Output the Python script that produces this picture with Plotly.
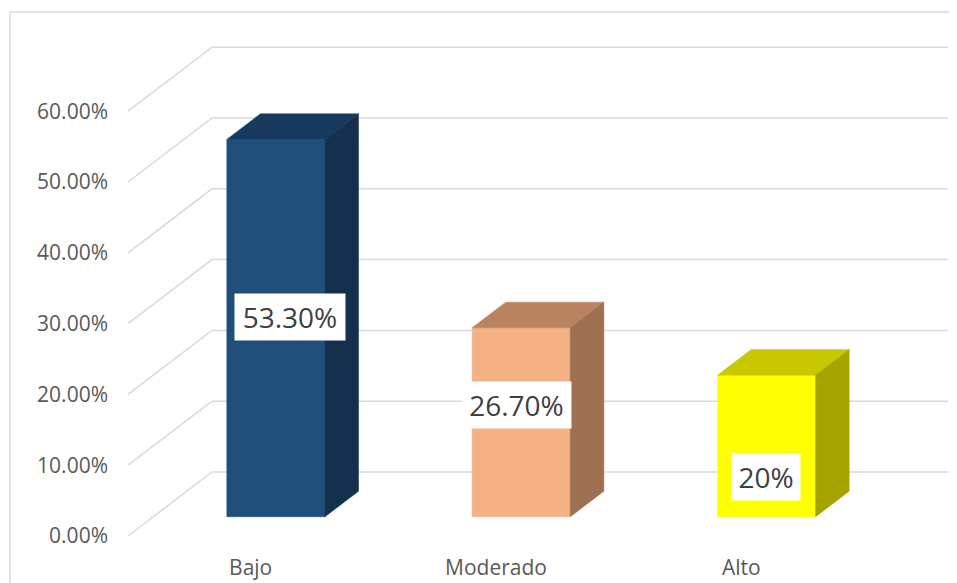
import plotly.graph_objects as go

# ---- data ----
categories = ["Bajo", "Moderado", "Alto"]
values = [53.3, 26.7, 20.0]
value_labels = ["53.30%", "26.70%", "20%"]
ytick_vals = [0, 10, 20, 30, 40, 50, 60]
ytick_text = ["0.00%", "10.00%", "20.00%", "30.00%", "40.00%", "50.00%", "60.00%"]

front_colors = ["#1F4E79", "#F4B183", "#FFFF00"]
top_colors = ["#173A5E", "#B9835F", "#C9C700"]
side_colors = ["#15304C", "#9C7050", "#A5A300"]

# label anchor (category x offset, fraction of value) and box widths
label_dx = [0.160, 0.083, 0.099]
label_fy = [0.580, 0.691, 0.414]
label_w = [102, 101, 60]

# ---- pseudo-3D projection (in axis units) ----
DX = 0.3424   # x shift for full depth
DY = 9.04     # y shift for full depth
Z0, Z1 = 0.3, 0.7   # bar depth extent
W0, W1 = 0.3, 0.7   # bar width extent within category

fig = go.Figure()

# gridlines: diagonal on the side wall + horizontal on the back wall
gx, gy = [], []
n = len(categories)
for t in ytick_vals:
    gx += [0, DX, n + DX, None]
    gy += [t, t + DY, t + DY, None]
fig.add_trace(go.Scatter(x=gx, y=gy, mode="lines",
                         line=dict(color="#D9D9D9", width=1.5),
                         hoverinfo="skip", showlegend=False))


def poly(xs, ys, color):
    fig.add_trace(go.Scatter(x=xs + [xs[0]], y=ys + [ys[0]], fill="toself", mode="lines",
                             fillcolor=color, line=dict(width=0.5, color=color),
                             hoverinfo="skip", showlegend=False))


for i, v in enumerate(values):
    xl, xr = i + W0, i + W1
    # front face
    poly([xl + Z0 * DX, xr + Z0 * DX, xr + Z0 * DX, xl + Z0 * DX],
         [Z0 * DY, Z0 * DY, v + Z0 * DY, v + Z0 * DY], front_colors[i])
    # top face
    poly([xl + Z0 * DX, xr + Z0 * DX, xr + Z1 * DX, xl + Z1 * DX],
         [v + Z0 * DY, v + Z0 * DY, v + Z1 * DY, v + Z1 * DY], top_colors[i])
    # side face
    poly([xr + Z0 * DX, xr + Z1 * DX, xr + Z1 * DX, xr + Z0 * DX],
         [Z0 * DY, Z1 * DY, v + Z1 * DY, v + Z0 * DY], side_colors[i])

# data labels
for i, v in enumerate(values):
    fig.add_annotation(x=i + 0.5 + label_dx[i], y=v * label_fy[i], text=value_labels[i],
                       showarrow=False, bgcolor="#FFFFFF", borderpad=4, width=label_w[i],
                       font=dict(family="Open Sans", size=28, color="#404040"))

# chart border (left and top)
fig.add_shape(type="path", xref="paper", yref="paper",
              path="M -0.1207,-0.08 L -0.1207,0.99252 L 1.02,0.99252",
              line=dict(color="#D9D9D9", width=1.5))

fig.update_layout(
    width=949, height=575,
    margin=dict(l=104, r=0, t=0, b=40),
    paper_bgcolor="white", plot_bgcolor="white",
    xaxis=dict(range=[-0.0652, 3.3791], tickvals=[0.5, 1.5, 2.5], ticktext=categories,
               showgrid=False, zeroline=False, showline=False, ticks="",
               ticklabelstandoff=10,
               tickfont=dict(family="Open Sans", size=21, color="#595959")),
    yaxis=dict(range=[-0.989, 74.576], tickvals=ytick_vals, ticktext=ytick_text,
               showgrid=False, zeroline=False, showline=False, ticks="",
               ticklabelstandoff=3,
               tickfont=dict(family="Open Sans", size=21, color="#595959")),
)

fig.write_html("out.html")
